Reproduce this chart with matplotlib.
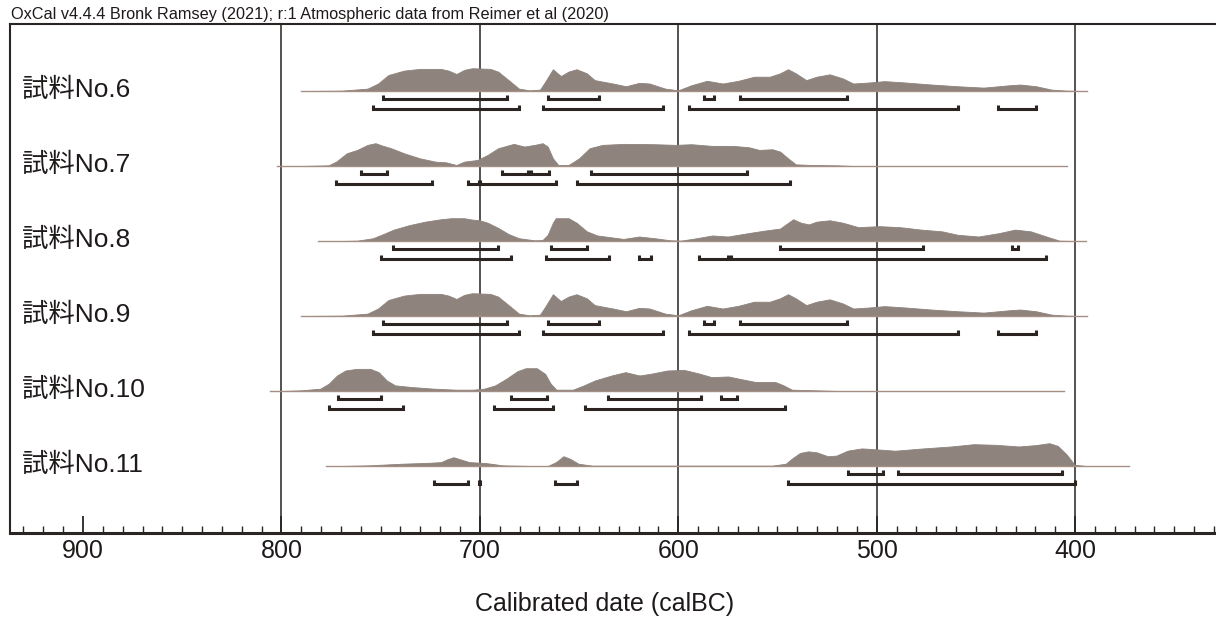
import matplotlib
matplotlib.use("Agg")
import matplotlib.pyplot as plt
import numpy as np

# ---------------- data ----------------
title_text = "OxCal v4.4.4 Bronk Ramsey (2021); r:1 Atmospheric data from Reimer et al (2020)"
x_label = "Calibrated date (calBC)"
tick_values = [900, 800, 700, 600, 500, 400]
sample_names = ["試料No.6", "試料No.7", "試料No.8", "試料No.9", "試料No.10", "試料No.11"]

# No.6
s6_span = [790, 394]
s6_years = [789.5, 769.7, 756.6, 751.3, 746.1, 738.2, 730.3, 719.7, 715.8, 711.8, 707.9, 703.9,
            694.7, 690.8, 685.5, 680.3, 675.0, 669.7, 667.1, 663.2, 659.2, 655.3, 651.3, 646.1,
            642.1, 632.9, 626.3, 619.7, 614.5, 606.6, 600.0, 593.4, 585.5, 577.6, 569.7, 561.8,
            553.9, 548.7, 544.7, 540.8, 535.5, 530.3, 523.7, 517.1, 511.8, 503.9, 496.1, 485.5,
            472.4, 459.2, 446.1, 432.9, 427.6, 419.7, 411.8, 403.9, 396.1]
s6_prob = [0, 1, 7, 22, 47, 60, 65, 65, 60, 50, 62, 67,
           65, 57, 32, 7, 2, 4, 27, 64, 44, 57, 64, 52,
           32, 22, 14, 24, 22, 7, 2, 17, 30, 22, 30, 42,
           42, 52, 64, 52, 32, 42, 49, 37, 22, 25, 29, 25,
           19, 14, 10, 17, 19, 14, 4, 1, 0]
s6_r68 = [(748.7, 686.1), (665.8, 640.0), (586.8, 582.1), (568.9, 515.0)]
s6_r95 = [(753.9, 680.3), (668.4, 607.9), (594.7, 459.2), (438.7, 419.7)]

# No.7
s7_span = [802, 404]
s7_years = [790.0, 776.3, 772.4, 767.1, 761.8, 756.6, 752.6, 748.7, 744.7, 738.2, 730.3, 722.4,
            717.1, 711.8, 707.9, 701.3, 696.1, 690.8, 682.9, 677.6, 672.4, 668.4, 665.8, 663.2,
            660.5, 655.3, 650.0, 644.7, 638.2, 627.6, 611.8, 601.3, 593.4, 582.9, 572.4, 564.5,
            559.2, 552.6, 548.7, 544.7, 540.8, 532.9, 519.7, 511.8]
s7_prob = [0, 2, 13, 38, 48, 63, 68, 60, 53, 38, 23, 13,
           11, 3, 13, 18, 33, 53, 66, 58, 63, 68, 58, 23,
           3, 3, 23, 53, 63, 66, 65, 63, 65, 60, 60, 56,
           48, 50, 43, 23, 5, 3, 2, 0]
s7_r68 = [(760.0, 746.8), (688.7, 675.5), (674.2, 665.0), (643.9, 565.3)]
s7_r95 = [(772.4, 724.2), (706.1, 700.5), (700.0, 661.8), (650.8, 543.9)]

# No.8
s8_span = [781.6, 394.7]
s8_years = [770.0, 761.8, 753.9, 748.7, 743.4, 735.5, 727.6, 719.7, 714.5, 707.9, 703.9, 700.0,
            696.1, 690.8, 685.5, 680.3, 672.4, 668.4, 665.8, 663.2, 661.8, 655.3, 651.3, 646.1,
            640.8, 632.9, 627.6, 619.7, 611.8, 603.9, 598.7, 590.8, 582.9, 575.0, 564.5, 556.6,
            548.7, 542.1, 538.2, 534.2, 530.3, 523.7, 517.1, 509.2, 498.7, 488.2, 477.6, 467.1,
            459.2, 448.7, 438.2, 430.3, 422.4, 414.5, 407.9, 400.0]
s8_prob = [0, 1, 8, 20, 33, 46, 56, 63, 66, 66, 62, 60,
           53, 38, 20, 8, 2, 3, 18, 53, 66, 66, 53, 28,
           16, 10, 6, 13, 8, 2, 1, 8, 16, 13, 23, 30,
           36, 63, 53, 48, 56, 60, 53, 40, 43, 40, 33, 28,
           18, 13, 23, 33, 28, 13, 1, 0]
s8_r68 = [(743.9, 690.8), (663.9, 646.1), (548.7, 476.8), (431.6, 428.9)]
s8_r95 = [(750.0, 684.2), (666.6, 635.0), (619.7, 613.9), (589.5, 575.0), (573.4, 414.5)]

# No.9
s9_span = [790, 394]
s9_years = [789.5, 769.7, 756.6, 751.3, 746.1, 738.2, 730.3, 719.7, 715.8, 711.8, 707.9, 703.9,
            694.7, 690.8, 685.5, 680.3, 675.0, 669.7, 667.1, 663.2, 659.2, 655.3, 651.3, 646.1,
            642.1, 632.9, 626.3, 619.7, 614.5, 606.6, 600.0, 593.4, 585.5, 577.6, 569.7, 561.8,
            553.9, 548.7, 544.7, 540.8, 535.5, 530.3, 523.7, 517.1, 511.8, 503.9, 496.1, 485.5,
            472.4, 459.2, 446.1, 432.9, 427.6, 419.7, 411.8, 403.9, 396.1]
s9_prob = [0, 1, 7, 22, 47, 60, 65, 65, 60, 50, 62, 67,
           65, 57, 32, 7, 2, 4, 27, 64, 44, 57, 64, 52,
           32, 22, 14, 24, 22, 7, 2, 17, 30, 22, 30, 42,
           42, 52, 64, 52, 32, 42, 49, 37, 22, 25, 29, 25,
           19, 14, 10, 17, 19, 14, 4, 1, 0]
s9_r68 = [(748.7, 686.1), (665.8, 640.0), (586.8, 582.1), (568.9, 515.0)]
s9_r95 = [(753.9, 680.3), (668.4, 607.9), (594.7, 459.2), (438.7, 419.7)]

# No.10
s10_span = [805.6, 405.5]
s10_years = [800.0, 790.2, 780.4, 776.2, 772.0, 767.8, 762.2, 755.2, 751.0, 746.9, 742.7, 734.3,
             723.1, 711.9, 703.5, 697.9, 692.3, 686.7, 681.1, 676.9, 671.3, 667.1, 664.3, 661.5,
             653.1, 647.6, 642.0, 633.6, 626.6, 619.6, 614.0, 605.6, 597.2, 590.2, 583.2, 574.8,
             569.2, 560.8, 551.0, 546.9, 542.7, 530.1, 518.9]
s10_prob = [0, 2, 7, 22, 47, 62, 67, 67, 57, 32, 17, 12,
            7, 4, 4, 7, 17, 37, 60, 69, 69, 52, 22, 4,
            4, 17, 32, 47, 57, 47, 52, 62, 64, 54, 42, 44,
            37, 27, 27, 17, 4, 2, 0]
s10_r68 = [(771.5, 749.7), (684.5, 666.3), (635.5, 588.8), (578.5, 570.6)]
s10_r95 = [(776.2, 738.5), (692.9, 662.9), (647.0, 546.0)]

# No.11
s11_span = [777.4, 373.0]
s11_years = [770.0, 756.2, 739.3, 725.1, 719.5, 716.7, 713.3, 709.6, 705.4, 696.9, 688.4, 674.3,
             665.8, 661.6, 657.9, 654.5, 650.3, 643.2, 552.8, 545.8, 542.9, 538.7, 534.5, 530.2,
             524.6, 520.3, 514.7, 507.6, 502.0, 490.7, 476.6, 462.4, 451.1, 439.8, 428.5, 420.1,
             413.0, 408.8, 404.5, 400.3, 394.6]
s11_prob = [0, 2, 7, 10, 12, 20, 27, 20, 12, 9, 2, 0,
            0, 12, 30, 22, 7, 1, 1, 7, 22, 40, 45, 42,
            30, 32, 47, 54, 52, 47, 54, 60, 67, 65, 60, 64,
            70, 62, 37, 4, 0]
s11_r68 = [(514.7, 496.9), (489.3, 406.5)]
s11_r95 = [(723.2, 705.9), (700.6, 699.7), (662.1, 651.1), (544.9, 400.3)]

samples = [
    (s6_span, s6_years, s6_prob, s6_r68, s6_r95),
    (s7_span, s7_years, s7_prob, s7_r68, s7_r95),
    (s8_span, s8_years, s8_prob, s8_r68, s8_r95),
    (s9_span, s9_years, s9_prob, s9_r68, s9_r95),
    (s10_span, s10_years, s10_prob, s10_r68, s10_r95),
    (s11_span, s11_years, s11_prob, s11_r68, s11_r95),
]

# ---------------- style / layout ----------------
W, H = 1216, 622
AX_L, AX_T, AX_B = 10, 24, 533  # pixel edges of the plot frame
ROW0, ROW_STEP = 91, 75         # pixel rows of baselines
PEAK_H = 22.8                   # pixel height of distribution peaks
BAR68_OFF, BAR95_OFF, BRK_H = 8, 17.5, 4
FILL_COLOR = "#8e837d"
LINE_COLOR = "#a58f84"
BAR_COLOR = "#2b2421"
LATIN = "Liberation Sans"
CJK = "Noto Sans CJK JP"
X_LEFT, X_RIGHT = 936.8, 329.0

fig = plt.figure(figsize=(W / 100, H / 100), dpi=100)
fig.patch.set_facecolor("white")
ax = fig.add_axes([AX_L / W, 1 - AX_B / H, (W - AX_L) / W, (AX_B - AX_T) / H])
ax.set_xlim(X_LEFT, X_RIGHT)
ax.set_ylim(AX_B, AX_T)

for xv in tick_values[1:]:
    ax.axvline(xv, color="#3a3331", lw=1.2, zorder=1)

for i, (span, yrs, prob, r68, r95) in enumerate(samples):
    base = ROW0 + ROW_STEP * i
    p = np.asarray(prob, dtype=float)
    h = p / p.max() * PEAK_H
    ax.fill_between(yrs, base, base - h, color=FILL_COLOR, lw=0.6, edgecolor=FILL_COLOR, zorder=2)
    ax.plot(span, [base, base], color=LINE_COLOR, lw=1.0, zorder=3)
    for off, rngs in ((BAR68_OFF, r68), (BAR95_OFF, r95)):
        y = base + off
        for a, b in rngs:
            ax.plot([a, a, b, b], [y - BRK_H, y, y, y - BRK_H], color=BAR_COLOR,
                    lw=2.2, solid_joinstyle="miter", solid_capstyle="butt", zorder=4)
    ax.text((22 - AX_L) / (W - AX_L), (AX_B - (base - 1)) / (AX_B - AX_T), sample_names[i],
            transform=ax.transAxes, fontsize=19, family=[LATIN, CJK],
            ha="left", va="center", color="#1e1a19", zorder=5)

# axes / ticks
for side in ("top", "left"):
    ax.spines[side].set_linewidth(1.5)
    ax.spines[side].set_color("#2a2422")
ax.spines["right"].set_visible(False)
ax.spines["bottom"].set_linewidth(2.2)
ax.spines["bottom"].set_color("#2a2422")
ax.set_yticks([])
ax.set_xticks(tick_values)
ax.set_xticklabels([str(t) for t in tick_values], fontsize=18, family=LATIN, color="#1e1a19")
ax.set_xticks(np.arange(930, 329, -10), minor=True)
ax.tick_params(axis="x", which="major", direction="in", length=12, width=1.3, pad=4, color="#2a2422")
ax.tick_params(axis="x", which="minor", direction="in", length=5, width=1.0, color="#2a2422")

fig.text(11 / W, 1 - 14 / H, title_text, fontsize=11.7, family=LATIN, color="#1e1a19",
         ha="left", va="center")
fig.text(605 / W, 1 - 604 / H, x_label, fontsize=18, family=LATIN, color="#1e1a19",
         ha="center", va="center")

fig.savefig("out.png", dpi=100, facecolor="white")
